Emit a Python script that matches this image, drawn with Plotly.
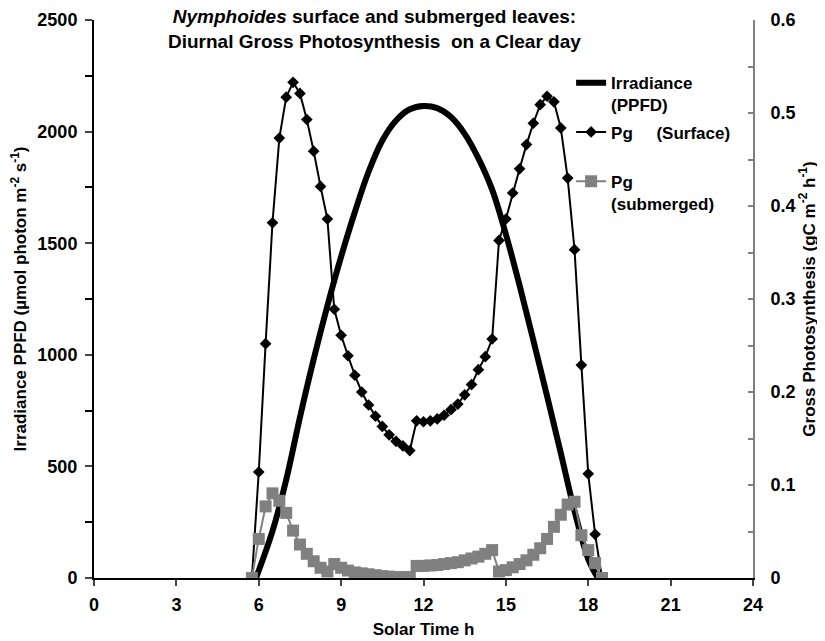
import plotly.graph_objects as go

# Irradiance (PPFD), left axis
irr_time = [5.9, 6.5, 7.0, 7.5, 8.0, 8.5, 9.0, 9.5, 10.0, 10.5, 11.0, 11.5, 12.0,
            12.5, 13.0, 13.5, 14.0, 14.5, 15.0, 15.5, 16.0, 16.5, 17.0, 17.5, 18.0, 18.35]
irr_ppfd = [0, 210, 440, 720, 980, 1220, 1440, 1640, 1820, 1960, 2050, 2100, 2115,
            2105, 2065, 1990, 1880, 1740, 1540, 1310, 1065, 815, 560, 300, 85, 0]

# Gross photosynthesis (right axis), 15-min steps
pg_time = [5.75, 6.0, 6.25, 6.5, 6.75, 7.0, 7.25, 7.5, 7.75, 8.0,
           8.25, 8.5, 8.75, 9.0, 9.25, 9.5, 9.75, 10.0, 10.25, 10.5,
           10.75, 11.0, 11.25, 11.5, 11.75, 12.0, 12.25, 12.5, 12.75, 13.0,
           13.25, 13.5, 13.75, 14.0, 14.25, 14.5, 14.75, 15.0, 15.25, 15.5,
           15.75, 16.0, 16.25, 16.5, 16.75, 17.0, 17.25, 17.5, 17.75, 18.0,
           18.25, 18.5]
pg_surface = [0, 0.114, 0.252, 0.382, 0.473, 0.517, 0.533, 0.521, 0.493, 0.459,
              0.421, 0.386, 0.289, 0.261, 0.239, 0.218, 0.200, 0.186, 0.174, 0.163,
              0.154, 0.147, 0.142, 0.137, 0.169, 0.168, 0.169, 0.171, 0.175, 0.181,
              0.187, 0.197, 0.208, 0.224, 0.238, 0.257, 0.363, 0.386, 0.414, 0.440,
              0.466, 0.489, 0.509, 0.518, 0.512, 0.484, 0.430, 0.353, 0.229, 0.112,
              0.047, 0]
pg_submerged = [0, 0.042, 0.077, 0.091, 0.083, 0.070, 0.051, 0.036, 0.026, 0.018,
                0.011, 0.007, 0.015, 0.011, 0.008, 0.006, 0.005, 0.004, 0.003, 0.002,
                0.0015, 0.001, 0.001, 0.001, 0.013, 0.013, 0.0135, 0.014, 0.015, 0.016,
                0.017, 0.019, 0.021, 0.023, 0.026, 0.030, 0.007, 0.0085, 0.0115, 0.015,
                0.019, 0.025, 0.032, 0.042, 0.055, 0.068, 0.079, 0.082, 0.046, 0.030,
                0.016, 0]

x_ticks = [0, 3, 6, 9, 12, 15, 18, 21, 24]

FONT = "Liberation Sans"
GRAY = "#808080"

fig = go.Figure()
fig.add_trace(go.Scatter(
    x=irr_time, y=irr_ppfd, mode="lines", line=dict(color="black", width=6, shape="spline"),
    name="Irradiance<br>(PPFD)", legendgroup="a", yaxis="y"))
fig.add_trace(go.Scatter(
    x=pg_time, y=pg_surface, mode="lines+markers", line=dict(color="black", width=2),
    marker=dict(symbol="diamond", size=9, color="black"),
    name="Pg" + "\u00a0" * 5 + "(Surface)<br> ", legendgroup="b", yaxis="y2"))
fig.add_trace(go.Scatter(
    x=pg_time, y=pg_submerged, mode="lines+markers", line=dict(color=GRAY, width=2),
    marker=dict(symbol="square", size=12, color=GRAY),
    name="Pg<br>(submerged)", legendgroup="c", yaxis="y2"))

tickf = dict(family=FONT, size=18, color="black", weight="bold")
titlef = dict(family=FONT, size=17, color="black")

fig.update_layout(
    width=825, height=641,
    margin=dict(l=86, r=80, t=12, b=71),
    paper_bgcolor="white", plot_bgcolor="white",
    font=dict(family=FONT, color="black"),
    showlegend=True,
    legend=dict(x=0.724, y=0.919, xanchor="left", yanchor="top",
                font=dict(family=FONT, size=17, color="black", weight="bold"),
                valign="top", tracegroupgap=2, bgcolor="rgba(0,0,0,0)"),
    xaxis=dict(range=[0, 24], tickvals=x_ticks, ticks="outside", ticklen=6, tickwidth=2,
               showline=True, linecolor="black", linewidth=2, showgrid=False, zeroline=False,
               tickfont=tickf, automargin=False, ticklabelstandoff=3,
               title=dict(text="<b>Solar Time h</b>", font=titlef, standoff=10)),
    yaxis=dict(range=[0, 2500], dtick=500, ticks="outside", ticklen=7, tickwidth=2,
               minor=dict(dtick=250, ticks="outside", ticklen=7, tickwidth=2, tickcolor="black"),
               showline=True, linecolor="black", linewidth=2, showgrid=False, zeroline=False,
               tickfont=tickf, automargin=False, ticklabelstandoff=4,
               title=dict(text="<b>Irradiance PPFD (µmol photon m<sup>-2</sup> s<sup>-1</sup>)</b>",
                          font=titlef, standoff=8)),
    yaxis2=dict(range=[0, 0.6], dtick=0.1, overlaying="y", side="right",
                ticks="inside", ticklen=5, tickwidth=2, tickcolor=GRAY,
                minor=dict(dtick=0.05, ticks="inside", ticklen=5, tickwidth=2, tickcolor=GRAY),
                showline=True, linecolor=GRAY, linewidth=2, showgrid=False, zeroline=False,
                tickfont=tickf, automargin=False, ticklabelstandoff=12,
                title=dict(text="<b>Gross Photosynthesis (gC m<sup>-2</sup> h<sup>-1</sup>)</b>",
                           font=titlef, standoff=8)),
    annotations=[dict(
        text="<b><i>Nymphoides</i> surface and submerged leaves:<br>Diurnal Gross Photosynthesis  on a Clear day</b>",
        xref="paper", yref="paper", x=0.425, y=1.029, xanchor="center", yanchor="top",
        showarrow=False, align="center",
        font=dict(family=FONT, size=19, color="black"))],
)

fig.write_html("out.html")
